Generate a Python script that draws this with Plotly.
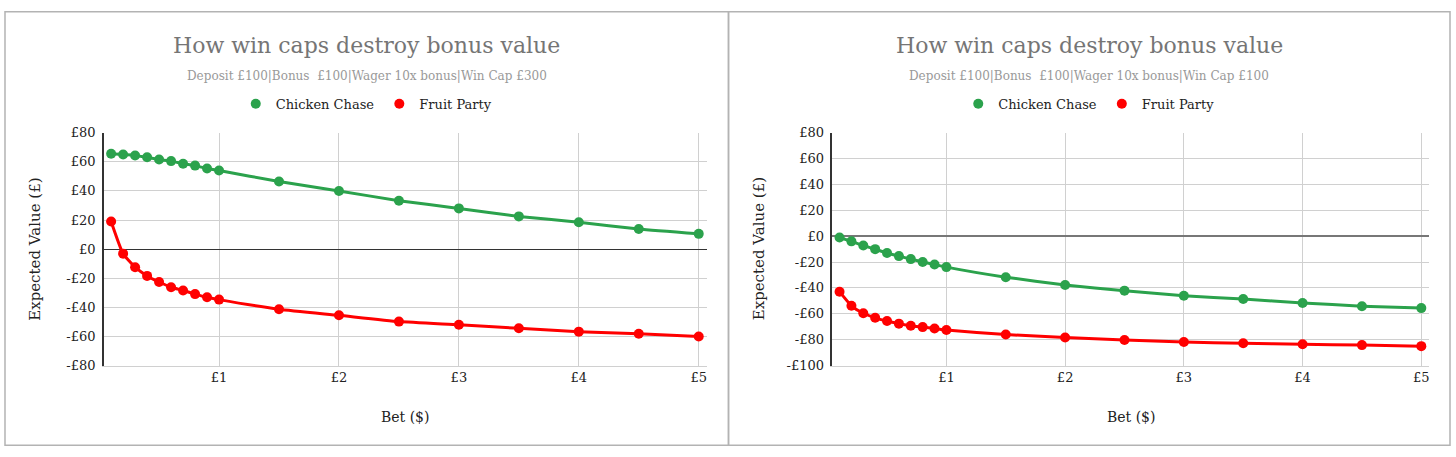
import plotly.graph_objects as go

# ---------------- data ----------------
bets = [0.1, 0.2, 0.3, 0.4, 0.5, 0.6, 0.7, 0.8, 0.9, 1.0,
        1.5, 2.0, 2.5, 3.0, 3.5, 4.0, 4.5, 5.0]

cap300_chicken = [65.5, 65.0, 64.4, 63.1, 61.6, 60.5, 58.7, 57.4, 55.4, 54.0,
                  46.5, 40.0, 33.3, 28.0, 22.5, 18.5, 13.8, 10.5]
cap300_fruit = [19.0, -3.1, -12.4, -18.4, -22.6, -26.2, -28.4, -30.9, -33.1, -34.7,
                -41.3, -45.5, -49.8, -52.0, -54.4, -56.7, -58.2, -60.0]

cap100_chicken = [-1.0, -4.0, -7.2, -10.0, -13.0, -15.4, -17.7, -19.9, -21.9, -23.9,
                  -31.7, -37.7, -42.1, -46.1, -48.6, -51.6, -54.1, -55.6]
cap100_fruit = [-42.9, -53.8, -59.6, -63.1, -65.6, -67.6, -69.3, -70.3, -71.3, -72.5,
                -76.0, -78.3, -80.3, -81.8, -82.8, -83.5, -84.2, -85.0]

series_names = ["Chicken Chase", "Fruit Party"]
x_tick_vals = [1, 2, 3, 4, 5]
x_tick_text = ["£1", "£2", "£3", "£4", "£5"]
left_y_ticks = [80, 60, 40, 20, 0, -20, -40, -60, -80]
right_y_ticks = [80, 60, 40, 20, 0, -20, -40, -60, -80, -100]
title_text = "How win caps destroy bonus value"
subtitles = ["Deposit £100|Bonus  £100|Wager 10x bonus|Win Cap £300",
             "Deposit £100|Bonus  £100|Wager 10x bonus|Win Cap £100"]

# ---------------- style ----------------
W, H = 1456, 457
FONT = "DejaVu Serif"
GREEN = "#2ba24c"
RED = "#ff0000"
colors = [GREEN, RED]


def px(x):
    return x / W


def py(y):
    return 1 - y / H


def money(v):
    return ("-£%d" % abs(v)) if v < 0 else ("£%d" % v)


fig = go.Figure()

panels = [
    dict(xa="x", ya="y", leg="legend", data=[cap300_chicken, cap300_fruit]),
    dict(xa="x2", ya="y2", leg="legend2", data=[cap100_chicken, cap100_fruit]),
]

for p in panels:
    for name, vals, col in zip(series_names, p["data"], colors):
        fig.add_trace(go.Scatter(
            x=bets, y=vals, mode="lines+markers", name=name,
            line=dict(color=col, width=3, shape="spline", smoothing=0.5),
            marker=dict(color=col, size=10),
            xaxis=p["xa"], yaxis=p["ya"], showlegend=False,
            hoverinfo="x+y"))
    # legend-only entries (dot symbol only)
    for name, col in zip(series_names, colors):
        fig.add_trace(go.Scatter(
            x=[None], y=[None], mode="markers", name=name,
            marker=dict(color=col, size=10),
            xaxis=p["xa"], yaxis=p["ya"], legend=p["leg"], showlegend=True))

axis_common = dict(
    showgrid=True, gridcolor="#d0d0d0", gridwidth=1,
    tickfont=dict(family=FONT, size=13, color="#222"),
    ticks="", fixedrange=True,
)

left_dom = [px(104), px(707)]
right_dom = [px(833), px(1430)]
y_dom = [py(370.7), py(130)]

fig.update_layout(
    autosize=True,
    margin=dict(l=0, r=0, t=0, b=0),
    paper_bgcolor="white", plot_bgcolor="white",
    font=dict(family=FONT, color="#222"),
    xaxis=dict(domain=left_dom, range=[0.04, 5.065], tickvals=x_tick_vals,
               ticktext=x_tick_text, anchor="y", zeroline=False,
               showline=True, linecolor="#d0d0d0", linewidth=1, **axis_common),
    yaxis=dict(domain=y_dom, range=[-80, 80], tickvals=left_y_ticks,
               ticktext=[money(v) for v in left_y_ticks], anchor="x",
               zeroline=True, zerolinecolor="#333", zerolinewidth=1,
               showline=True, linecolor="#333", linewidth=1.5,
               ticklabelstandoff=4, **axis_common),
    xaxis2=dict(domain=right_dom, range=[0.04, 5.065], tickvals=x_tick_vals,
                ticktext=x_tick_text, anchor="y2", zeroline=False,
                showline=True, linecolor="#d0d0d0", linewidth=1, **axis_common),
    yaxis2=dict(domain=y_dom, range=[-100, 80], tickvals=right_y_ticks,
                ticktext=[money(v) for v in right_y_ticks], anchor="x2",
                zeroline=True, zerolinecolor="#777", zerolinewidth=1.5,
                showline=True, linecolor="#333", linewidth=1.5,
                ticklabelstandoff=4, **axis_common),
    legend=dict(orientation="h", x=px(367), xanchor="center", y=py(100),
                yanchor="middle", font=dict(family=FONT, size=13, color="#222"),
                itemwidth=30, bgcolor="rgba(0,0,0,0)"),
    legend2=dict(orientation="h", x=px(1090), xanchor="center", y=py(100),
                 yanchor="middle", font=dict(family=FONT, size=13, color="#222"),
                 itemwidth=30, bgcolor="rgba(0,0,0,0)"),
)

# panel borders
for x0, x1 in [(5, 729), (729, 1451)]:
    fig.add_shape(type="rect", xref="paper", yref="paper",
                  x0=px(x0), x1=px(x1), y0=py(453), y1=py(5),
                  line=dict(color="#b3b3b3", width=1.5), fillcolor="rgba(0,0,0,0)",
                  layer="below")

# titles, subtitles, axis titles
centers = [367, 1090]
plot_centers = [(104 + 707) / 2, (833 + 1430) / 2]
ytitle_x = [35, 759]
for c, pc, yx, sub in zip(centers, plot_centers, ytitle_x, subtitles):
    fig.add_annotation(text=title_text, x=px(c), y=py(40), xref="paper", yref="paper",
                       showarrow=False, xanchor="center", yanchor="middle",
                       font=dict(family=FONT, size=22, color="#757575"))
    fig.add_annotation(text=sub, x=px(c), y=py(71), xref="paper", yref="paper",
                       showarrow=False, xanchor="center", yanchor="middle",
                       font=dict(family=FONT, size=12, color="#999999"))
    fig.add_annotation(text="Bet ($)", x=px(pc), y=py(424), xref="paper", yref="paper",
                       showarrow=False, xanchor="center", yanchor="middle",
                       font=dict(family=FONT, size=14, color="#222"))
    fig.add_annotation(text="Expected Value (£)", x=px(yx), y=py(250), xref="paper",
                       yref="paper", showarrow=False, textangle=-90,
                       xanchor="center", yanchor="middle",
                       font=dict(family=FONT, size=15, color="#222"))

fig.write_html(
    "out.html",
    default_width="100vw",
    default_height="100vh",
    config={"displayModeBar": False, "responsive": True},
    post_script=(
        "document.documentElement.style.margin='0';"
        "document.body.style.margin='0';document.body.style.overflow='hidden';"
        "var d=document.getElementById('{plot_id}');"
        "d.style.position='fixed';d.style.top='0px';d.style.left='0px';"
        "d.style.width='100vw';d.style.height='100vh';"
        "window.Plotly.Plots.resize(d);"
    ),
)
